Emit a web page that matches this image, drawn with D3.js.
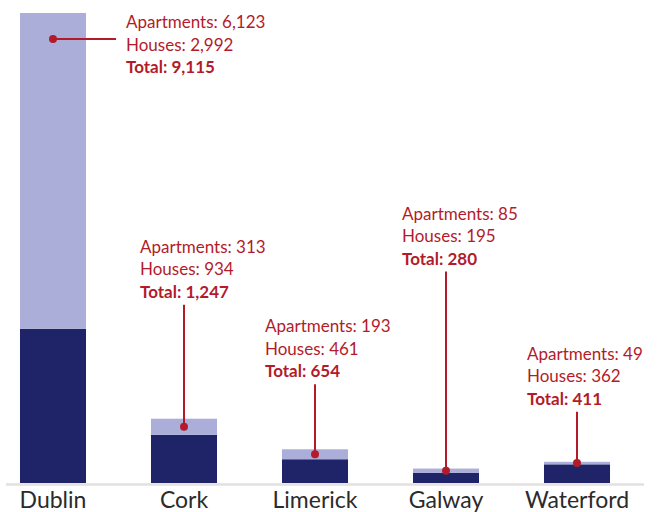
<!DOCTYPE html>
<html>
<head>
<meta charset="utf-8">
<script src="https://cdn.jsdelivr.net/npm/d3@7"></script>
<style>
  body { margin: 0; background: #fff; }
  text { font-family: Lato, "Open Sans", sans-serif; }
</style>
</head>
<body>
<script>
const cities = ['Dublin', 'Cork', 'Limerick', 'Galway', 'Waterford']
const houses = [2992, 934, 461, 195, 362]
const apartments = [6123, 313, 193, 85, 49]
const totals = [9115, 1247, 654, 280, 411]

// label placement (hand-tuned, like the original)
const labelLift = [null, 122, 73, 205, 58]
const labelShift = [null, -44, -50, -44, -50]

const width = 657
const height = 512

const svg = d3.select('body').append('svg')
  .attr('width', width)
  .attr('height', height)

const x = d3.scaleBand()
  .domain(cities)
  .range([-12.5, 642.5])
  .paddingInner(0.496)
  .paddingOuter(0.248)

const y = d3.scaleLinear()
  .domain([0, d3.max(totals)])
  .range([483, 13])

const fmt = d3.format(',')
const red = '#b31b2a'

const rows = cities.map((c, i) => ({
  city: c, houses: houses[i], apartments: apartments[i], total: totals[i],
  lift: labelLift[i], shift: labelShift[i]
}))

// houses (bottom)
svg.append('g').selectAll('rect')
  .data(rows)
  .enter()
  .append('rect')
  .attr('x', d => x(d.city))
  .attr('width', x.bandwidth())
  .attr('y', d => y(d.houses))
  .attr('height', d => y(0) - y(d.houses))
  .style('fill', '#1f2468')

// apartments (top)
svg.append('g').selectAll('rect')
  .data(rows)
  .enter()
  .append('rect')
  .attr('x', d => x(d.city))
  .attr('width', x.bandwidth())
  .attr('y', d => y(d.houses + d.apartments))
  .attr('height', d => y(d.houses) - y(d.houses + d.apartments))
  .style('fill', '#aaaed8')

// baseline
svg.append('line')
  .attr('x1', 6)
  .attr('x2', 644)
  .attr('y1', y(0) + 1.5)
  .attr('y2', y(0) + 1.5)
  .style('stroke', '#e3e1df')
  .style('stroke-width', 2.5)

// axis labels
svg.append('g').selectAll('text')
  .data(rows)
  .enter()
  .append('text')
  .attr('x', d => x(d.city) + x.bandwidth() / 2)
  .attr('y', 508)
  .attr('text-anchor', 'middle')
  .style('font-size', '23px')
  .style('fill', '#2b2b2b')
  .text(d => d.city)

// annotations
const ann = svg.append('g')

rows.forEach((d, i) => {
  const cx = x(d.city) + x.bandwidth() / 2
  const top = y(d.total)
  const seg = y(d.houses) - top
  const dotY = top + Math.min(seg / 2, 26)

  let tx, baseY
  if (i === 0) {
    tx = x(d.city) + x.bandwidth() + 40
    baseY = 28
    ann.append('line')
      .attr('x1', cx).attr('x2', tx - 10)
      .attr('y1', dotY).attr('y2', dotY)
      .style('stroke', red).style('stroke-width', 2)
  } else {
    tx = cx + d.shift
    baseY = top - d.lift - 44
    ann.append('line')
      .attr('x1', cx).attr('x2', cx)
      .attr('y1', baseY + 52).attr('y2', dotY)
      .style('stroke', red).style('stroke-width', 2)
  }

  ann.append('circle')
    .attr('cx', cx)
    .attr('cy', dotY)
    .attr('r', 4)
    .style('fill', red)

  const t = ann.append('text')
    .attr('x', tx)
    .attr('y', baseY)
    .style('font-size', '17px')
    .style('fill', red)

  t.append('tspan').attr('x', tx).attr('dy', 0)
    .text(`Apartments: ${fmt(d.apartments)}`)
  t.append('tspan').attr('x', tx).attr('dy', 22.5)
    .text(`Houses: ${d.city === 'Waterford' ? ' ' : ''}${fmt(d.houses)}`)
  t.append('tspan').attr('x', tx).attr('dy', 22.5)
    .style('font-weight', 'bold')
    .text(`Total: ${fmt(d.total)}`)
})
</script>
</body>
</html>
